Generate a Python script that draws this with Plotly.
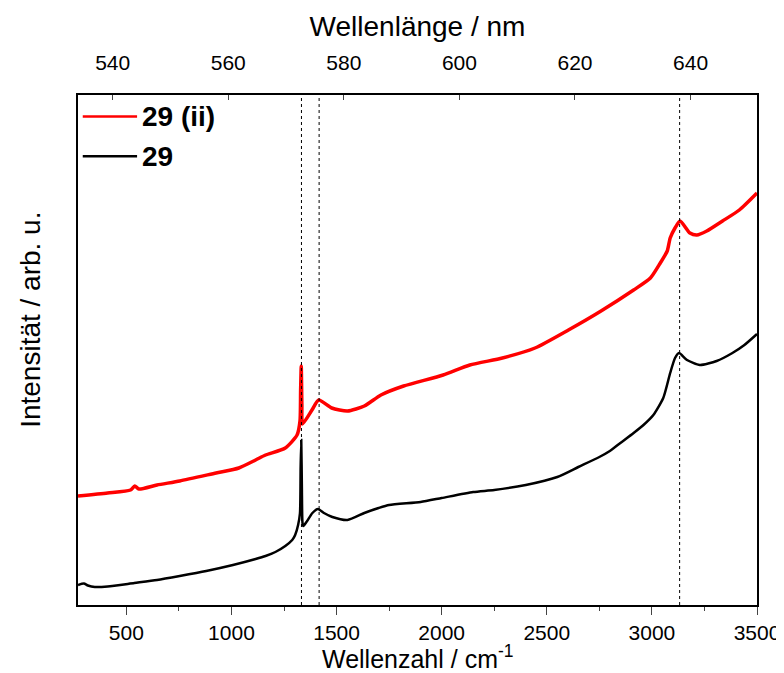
import plotly.graph_objects as go

# Wavenumber (cm-1) and intensity (arb. u.)
wn_29 = [270, 298, 317, 350, 411, 538, 646, 754, 880, 1007, 1115, 1162, 1209, 1256, 1289, 1303,
         1317, 1326, 1329, 1332, 1335, 1338, 1342, 1360, 1385, 1411, 1440, 1480, 1552, 1632, 1700,
         1750, 1900, 2000, 2150, 2250, 2400, 2550, 2650, 2750, 2800, 2850, 2913, 2960, 3007, 3054,
         3087, 3110, 3129, 3167, 3228, 3308, 3383, 3440, 3500]
int_29 = [20, 21.5, 19.5, 18, 18.5, 22, 25, 29, 34, 40, 46, 49, 53, 59, 65, 70,
          80, 92, 137, 165, 117, 82, 79, 84, 92, 96, 92, 88, 85, 92, 97,
          100, 103, 107, 113, 115, 120, 128, 138, 148, 154, 162, 172, 180, 190, 207,
          232, 247, 252, 245, 240, 244, 252, 260, 271]

wn_29ii = [270, 411, 520, 540, 560, 646, 754, 927, 1035, 1115, 1162, 1256, 1312, 1326, 1329, 1332,
           1335, 1338, 1383, 1415, 1477, 1552, 1632, 1711, 1819, 2007, 2134, 2289, 2444, 2603,
           2758, 2913, 2993, 3040, 3073, 3087, 3110, 3134, 3181, 3214, 3261, 3336, 3416, 3500]
int_29ii = [109, 112, 115, 119, 116, 120, 124, 132, 137, 145, 150, 157, 170, 184, 215, 239,
            200, 181, 195, 205, 197, 194, 199, 210, 219, 230, 240, 247, 257, 275,
            294, 315, 327, 342, 354, 367, 377, 384, 372, 370, 374, 384, 395, 412]

marker_lines = [1333, 1417, 3132]          # dotted reference lines (cm-1)
wn_range = [270, 3500]
nm_range = [534.0, 651.5]                  # top axis (nm)
nm_ticks = [540, 560, 580, 600, 620, 640]

FONT = "Liberation Sans, Arial, sans-serif"

fig = go.Figure()
fig.add_trace(go.Scatter(x=wn_29ii, y=int_29ii, mode="lines", name="29 (ii)",
                         line=dict(color="#ff0000", width=3.5, shape="spline", smoothing=0.6),
                         showlegend=False))
fig.add_trace(go.Scatter(x=wn_29, y=int_29, mode="lines", name="29",
                         line=dict(color="#000000", width=2.5, shape="spline", smoothing=0.6),
                         showlegend=False))
# invisible trace to anchor the top axis
fig.add_trace(go.Scatter(x=nm_range, y=[None, None], xaxis="x2", mode="lines",
                         showlegend=False, hoverinfo="skip"))

for xv in marker_lines:
    fig.add_shape(type="line", x0=xv, x1=xv, y0=0, y1=1, xref="x", yref="paper",
                  line=dict(color="black", width=1, dash="dot"))

# manual legend
legend_items = [("29 (ii)", "#ff0000", 0.958), ("29", "#000000", 0.880)]
for label, col, yp in legend_items:
    fig.add_shape(type="line", x0=0.007, x1=0.087, y0=yp, y1=yp, xref="paper", yref="paper",
                  line=dict(color=col, width=2.5))
    fig.add_annotation(x=0.092, y=yp, xref="paper", yref="paper", text=f"<b>{label}</b>",
                       showarrow=False, xanchor="left", yanchor="middle",
                       font=dict(family=FONT, size=28, color="black"))

# y-axis title placed as annotation (slightly above centre, as in the original)
fig.add_annotation(x=-0.07, y=0.56, xref="paper", yref="paper", text="Intensität / arb. u.",
                   showarrow=False, textangle=-90, xanchor="center", yanchor="middle",
                   font=dict(family=FONT, size=28, color="black"))

# bottom axis title as annotation so it stays inside the page
fig.add_annotation(x=0.5, y=0, xref="paper", yref="paper", yanchor="bottom", yshift=-70,
                   text="Wellenzahl / cm<sup>-1</sup>", showarrow=False,
                   font=dict(family=FONT, size=25, color="black"))

fig.update_layout(
    width=784, height=673,
    margin=dict(l=70, r=26, t=87, b=76),
    paper_bgcolor="white", plot_bgcolor="white",
    font=dict(family=FONT, color="black"),
    xaxis=dict(range=wn_range, dtick=500, tick0=0, ticks="outside", ticklen=8, tickwidth=1.3,
               showline=True, linecolor="black", linewidth=1.5, mirror=True, showgrid=False,
               zeroline=False, tickfont=dict(size=21),
               minor=dict(dtick=250, ticks="outside", ticklen=4, tickwidth=1.3, showgrid=False)),
    xaxis2=dict(range=nm_range, overlaying="x", side="top", tickvals=nm_ticks,
                ticks="inside", ticklen=5, tickwidth=1.3, showline=False, showgrid=False,
                zeroline=False, tickfont=dict(size=21), ticklabelstandoff=20,
                title=dict(text="Wellenlänge / nm", font=dict(size=28), standoff=5)),
    yaxis=dict(range=[0, 510], showticklabels=False, ticks="", showline=True, linecolor="black",
               linewidth=1.5, mirror=True, showgrid=False, zeroline=False),
)

fig.write_html("out.html")
